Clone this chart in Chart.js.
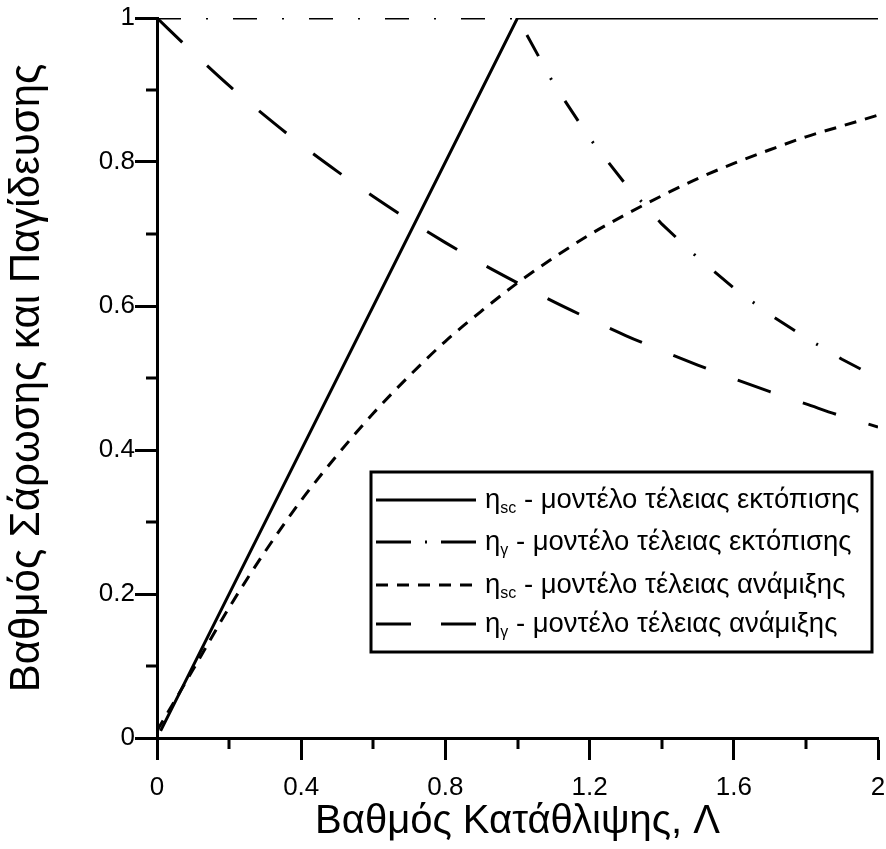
<!DOCTYPE html>
<html>
<head>
<meta charset="utf-8">
<script src="https://cdn.jsdelivr.net/npm/chart.js@4/dist/chart.umd.min.js"></script>
<style>
  html, body { margin: 0; padding: 0; background: #fff; }
  #grafico { display: block; }
</style>
</head>
<body>
<canvas id="grafico" width="886" height="849"></canvas>
<script>
// Βαθμός κατάθλιψης Λ
const lambda = [0, 0.1, 0.2, 0.3, 0.4, 0.5, 0.6, 0.7, 0.8, 0.9, 1.0,
                1.1, 1.2, 1.3, 1.4, 1.5, 1.6, 1.7, 1.8, 1.9, 2.0];

// μοντέλο τέλειας ανάμιξης
const sweepMixing = [0.01, 0.095, 0.181, 0.259, 0.330, 0.393, 0.451, 0.503, 0.551, 0.593, 0.632,
                     0.667, 0.699, 0.727, 0.753, 0.777, 0.798, 0.817, 0.835, 0.850, 0.865];
const trapMixing = [1.0, 0.952, 0.906, 0.864, 0.824, 0.787, 0.752, 0.719, 0.688, 0.659, 0.632,
                    0.606, 0.582, 0.559, 0.538, 0.518, 0.499, 0.481, 0.464, 0.447, 0.432];

// μοντέλο τέλειας εκτόπισης
const sweepDispX = [0.01, 1.0, 2.0];
const sweepDisp = [0.01, 1.0, 1.0];
const trapDispX = [0, 1.0, 1.1, 1.2, 1.3, 1.4, 1.5, 1.6, 1.7, 1.8, 1.9, 2.0];
const trapDisp = [1.0, 1.0, 0.909, 0.833, 0.769, 0.714, 0.667, 0.625, 0.588, 0.556, 0.526, 0.5];

const xTicks = [0, 0.4, 0.8, 1.2, 1.6, 2];
const xMinor = [0.2, 0.6, 1.0, 1.4, 1.8];
const yTicks = [0, 0.2, 0.4, 0.6, 0.8, 1];
const yMinor = [0.1, 0.3, 0.5, 0.7, 0.9];

const legendSymbols = ['η', 'η', 'η', 'η'];
const legendSubs = ['sc', 'γ', 'sc', 'γ'];
const legendTexts = [' - μοντέλο τέλειας εκτόπισης', ' - μοντέλο τέλειας εκτόπισης',
                     ' - μοντέλο τέλειας ανάμιξης', ' - μοντέλο τέλειας ανάμιξης'];

const FONT = "'Liberation Sans', Arial, sans-serif";

function pares(xs, ys) {
  return xs.map((x, i) => ({ x: x, y: ys[i] }));
}

const dashes = [[], [24, 25, 2, 25], [12, 9], [35, 34]];

const datasets = [
  { label: legendSubs[0], data: pares(sweepDispX, sweepDisp) },
  { label: legendSubs[1], data: pares(trapDispX, trapDisp) },
  { label: legendSubs[2], data: pares(lambda, sweepMixing), cubicInterpolationMode: 'monotone' },
  { label: legendSubs[3], data: pares(lambda, trapMixing), cubicInterpolationMode: 'monotone' }
].map((d, i) => Object.assign({
  borderColor: '#000',
  borderWidth: 3,
  borderDash: dashes[i],
  pointRadius: 0,
  fill: false,
  tension: 0
}, d));

// μικρές υποδιαιρέσεις και υπόμνημα
const extras = {
  id: 'extras',
  afterDraw(chart) {
    const ctx = chart.ctx;
    const sx = chart.scales.x, sy = chart.scales.y;
    const a = chart.chartArea;
    ctx.save();
    ctx.strokeStyle = '#000';
    ctx.lineWidth = 3;
    ctx.beginPath();
    xMinor.forEach(v => {
      const px = Math.round(sx.getPixelForValue(v));
      ctx.moveTo(px, a.bottom);
      ctx.lineTo(px, a.bottom + 11);
    });
    yMinor.forEach(v => {
      const py = Math.round(sy.getPixelForValue(v));
      ctx.moveTo(a.left, py);
      ctx.lineTo(a.left - 11, py);
    });
    ctx.stroke();

    // υπόμνημα
    const bx = 371, by = 472, bw = 501, bh = 180;
    ctx.lineWidth = 3;
    ctx.strokeRect(bx, by, bw, bh);
    const rows = [500, 542, 585, 624];
    const legDash = [[], [35, 14, 2, 14], [12, 9], [35, 30]];
    rows.forEach((ry, i) => {
      ctx.beginPath();
      ctx.setLineDash(legDash[i]);
      ctx.lineWidth = 3;
      ctx.moveTo(376, ry);
      ctx.lineTo(476, ry);
      ctx.stroke();
      ctx.setLineDash([]);
      ctx.fillStyle = '#000';
      ctx.textBaseline = 'alphabetic';
      ctx.textAlign = 'left';
      let tx = 485;
      ctx.font = '27.5px ' + FONT;
      ctx.fillText(legendSymbols[i], tx, ry + 8);
      tx += ctx.measureText(legendSymbols[i]).width;
      ctx.font = '16px ' + FONT;
      ctx.fillText(legendSubs[i], tx, ry + 13);
      tx += ctx.measureText(legendSubs[i]).width;
      ctx.font = '27.5px ' + FONT;
      ctx.fillText(legendTexts[i], tx, ry + 8);
    });
    ctx.restore();
  }
};

const ctxGrafico = document.getElementById('grafico').getContext('2d');

new Chart(ctxGrafico, {
  type: 'line',
  data: { datasets: datasets },
  plugins: [extras],
  options: {
    responsive: false,
    animation: false,
    devicePixelRatio: 1,
    layout: { padding: { top: 18, right: 8, left: 0, bottom: 0 } },
    plugins: {
      legend: { display: false },
      tooltip: { enabled: false }
    },
    scales: {
      x: {
        type: 'linear',
        min: 0,
        max: 2,
        afterBuildTicks: s => { s.ticks = xTicks.map(v => ({ value: v })); },
        afterFit: s => { s.height = 111; s.paddingLeft = 0; s.paddingRight = 0; },
        ticks: {
          color: '#000',
          font: { family: FONT, size: 26 },
          padding: 12,
          maxRotation: 0,
          callback: v => String(v)
        },
        grid: {
          drawOnChartArea: false,
          tickLength: 22,
          tickColor: '#000',
          tickWidth: 3
        },
        border: { color: '#000', width: 3 },
        title: {
          display: true,
          text: 'Βαθμός Κατάθλιψης, Λ',
          color: '#000',
          font: { family: FONT, size: 40 },
          padding: { top: 0, bottom: 3 }
        }
      },
      y: {
        type: 'linear',
        min: 0,
        max: 1,
        afterBuildTicks: s => { s.ticks = yTicks.map(v => ({ value: v })); },
        afterFit: s => { s.width = 157; s.paddingTop = 0; s.paddingBottom = 0; },
        ticks: {
          color: '#000',
          font: { family: FONT, size: 26 },
          padding: 0,
          callback: v => String(v)
        },
        grid: {
          drawOnChartArea: false,
          tickLength: 22,
          tickColor: '#000',
          tickWidth: 3
        },
        border: { color: '#000', width: 3 },
        title: {
          display: true,
          text: 'Βαθμός Σάρωσης και Παγίδευσης',
          color: '#000',
          font: { family: FONT, size: 42 },
          padding: { top: 2, bottom: 0 }
        }
      }
    }
  }
});
</script>
</body>
</html>
